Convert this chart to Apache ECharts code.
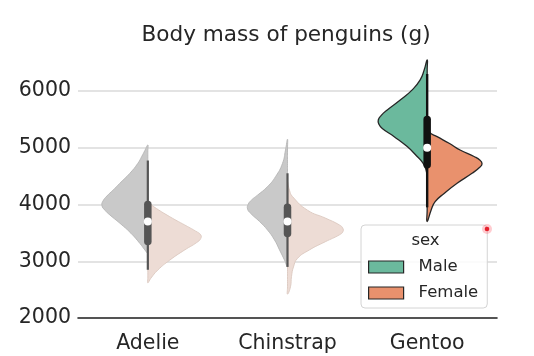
<!DOCTYPE html>
<html><head><meta charset="utf-8">
<script src="https://cdn.jsdelivr.net/npm/echarts@6/dist/echarts.min.js"></script>
<style>html,body{margin:0;padding:0;background:#fff}#c{width:534px;height:356px}</style>
</head><body><div id="c"></div>
<script>
const species = ['Adelie', 'Chinstrap', 'Gentoo'];
const yTicks = [2000, 3000, 4000, 5000, 6000];
const sexes = ['Male', 'Female'];

// half-violin outlines: [body mass (g), density]
const adelieMale = [[5050,0],[4950,3],[4850,6],[4725,10],[4550,18],[4375,28],[4250,35],[4150,41],[4060,45],[3980,46],[3900,43],[3815,38],[3670,28],[3495,17],[3315,8],[3200,3],[3140,0]];
const adelieFemale = [[4040,0],[3960,6],[3785,22],[3610,40],[3530,48],[3465,53],[3400,53],[3330,49],[3200,37],[3020,22],[2845,10],[2700,3],[2620,0]];
const chinstrapMale = [[5150,0],[4960,2],[4725,5],[4490,12],[4315,20],[4165,30],[4080,36],[4000,39.5],[3920,40],[3845,37],[3700,28],[3550,20],[3375,13],[3200,8],[3020,3],[2900,0]];
const chinstrapFemale = [[4400,0],[4250,2],[4140,5],[3900,20],[3760,38],[3640,52],[3580,55.5],[3520,55.5],[3465,52],[3345,38],[3200,22],[3050,10],[2900,6],[2730,4],[2550,3],[2420,0]];
const gentooMale = [[6550,0],[6370,3],[6195,7],[6020,15],[5840,27],[5665,40],[5570,46],[5490,49],[5420,48.5],[5340,45],[5195,33],[5020,20],[4845,10],[4725,4],[4600,1],[4500,0]];
const gentooFemale = [[5400,0],[5280,2],[5195,10],[5080,22],[4960,33],[4845,47],[4780,53],[4720,55],[4660,53],[4550,45],[4375,30],[4195,17],[4050,8],[3905,4],[3700,0]];

// inner box stats
const boxLow = [2850, 2900, 3950];
const boxQ1 = [3350, 3487.5, 4700];
const boxMedian = [3700, 3700, 5000];
const boxQ3 = [4000, 3950, 5500];
const boxHigh = [4775, 4550, 6300];

const maleShapes = [adelieMale, chinstrapMale, gentooMale];
const femaleShapes = [adelieFemale, chinstrapFemale, gentooFemale];
const maleFill = ['#c9c9c9', '#c9c9c9', '#6bb99d'];
const femaleFill = ['#eddcd5', '#eddcd5', '#e9916d'];
const maleStroke = ['#b6b6b6', '#b6b6b6', '#262626'];
const femaleStroke = ['#dbc8c0', '#dbc8c0', '#262626'];
const boxColor = ['#555555', '#555555', '#111111'];
const FONT = 'DejaVu Sans';

function violinRender(sign, shapes, fills, strokes) {
  return function (params, api) {
    const i = api.value(0);
    const pts = shapes[i];
    const band = api.size([1, 0])[0];
    const k = band / 140;
    const cx = api.coord([i, pts[0][0]])[0];
    const outer = pts.map(p => [cx + sign * p[1] * k, api.coord([i, p[0]])[1]]);
    const center = pts.slice(1, -1).reverse().map(p => [cx, api.coord([i, p[0]])[1]]);
    return {
      type: 'polygon',
      shape: { points: outer.concat(center), smooth: 0.5 },
      style: { fill: fills[i], stroke: strokes[i], lineWidth: i === 2 ? 1.3 : 0.9 }
    };
  };
}

function boxRender(params, api) {
  const i = api.value(0);
  const lo = api.coord([i, boxLow[i]]);
  const hi = api.coord([i, boxHigh[i]]);
  const q1 = api.coord([i, boxQ1[i]]);
  const q3 = api.coord([i, boxQ3[i]]);
  const md = api.coord([i, boxMedian[i]]);
  const c = boxColor[i];
  return {
    type: 'group',
    children: [
      { type: 'line', shape: { x1: lo[0], y1: lo[1], x2: hi[0], y2: hi[1] }, style: { stroke: c, lineWidth: i === 2 ? 2.4 : 2.2 } },
      { type: 'line', shape: { x1: q1[0], y1: q1[1], x2: q3[0], y2: q3[1] }, style: { stroke: c, lineWidth: 7.5, lineCap: 'round' } },
      { type: 'circle', shape: { cx: md[0], cy: md[1], r: 4 }, style: { fill: '#ffffff' } }
    ]
  };
}

const chart = echarts.init(document.getElementById('c'), null, { renderer: 'canvas' });
const catData = species.map((s, i) => [i, boxMedian[i]]);

chart.setOption({
  animation: false,
  backgroundColor: '#ffffff',
  textStyle: { fontFamily: FONT },
  title: {
    text: 'Body mass of penguins (g)',
    left: 281, top: 19, textAlign: 'center',
    textStyle: { fontFamily: FONT, fontSize: 21.6, fontWeight: 'normal', color: '#262626' }
  },
  grid: { left: 78, right: 37, top: 91, bottom: 38, containLabel: false },
  xAxis: {
    type: 'category', data: species,
    axisLine: { lineStyle: { color: '#262626', width: 1.6 } },
    axisTick: { alignWithLabel: true, length: 6, lineStyle: { color: '#262626', width: 1.6 } },
    axisLabel: { fontFamily: FONT, fontSize: 20.5, color: '#262626', margin: 15 },
    splitLine: { show: false }
  },
  yAxis: {
    type: 'value', min: yTicks[0], max: yTicks[yTicks.length - 1], interval: yTicks[1] - yTicks[0],
    axisLine: { show: false }, axisTick: { show: false },
    axisLabel: { fontFamily: FONT, fontSize: 20.5, color: '#262626', margin: 7, padding: [4, 0, 0, 0], formatter: v => String(v) },
    splitLine: { lineStyle: { color: '#dadada', width: 1.6 } }
  },
  legend: {
    orient: 'vertical', left: 361, top: 225, padding: [32, 9, 5, 7],
    itemWidth: 35, itemHeight: 12, itemGap: 6, selectedMode: false,
    data: [
      { name: sexes[0], icon: 'rect', itemStyle: { color: maleFill[2], borderColor: '#262626', borderWidth: 1.2 } },
      { name: sexes[1], icon: 'rect', itemStyle: { color: femaleFill[2], borderColor: '#262626', borderWidth: 1.2 } }
    ],
    textStyle: { fontFamily: FONT, fontSize: 16.5, color: '#262626', lineHeight: 20, padding: [0, 0, 0, 10] },
    backgroundColor: 'rgba(255,255,255,0.85)', borderColor: '#d4d4d4', borderWidth: 1, borderRadius: 4
  },
  graphic: [
    { type: 'text', x: 425.5, y: 241, z: 100, style: { text: 'sex', fontFamily: FONT, fontSize: 16.5, fill: '#262626', align: 'center', verticalAlign: 'middle' } },
    { type: 'circle', z: 100, shape: { cx: 487, cy: 229, r: 5 }, style: { fill: 'rgba(255,110,120,0.35)' } },
    { type: 'circle', z: 101, shape: { cx: 487, cy: 229, r: 2.3 }, style: { fill: '#e5202c' } }
  ],
  series: [
    { name: sexes[0], type: 'custom', clip: false, z: 2, data: catData, encode: { x: 0, y: 1 }, renderItem: violinRender(-1, maleShapes, maleFill, maleStroke), itemStyle: { color: maleFill[2] } },
    { name: sexes[1], type: 'custom', clip: false, z: 2, data: catData, encode: { x: 0, y: 1 }, renderItem: violinRender(1, femaleShapes, femaleFill, femaleStroke), itemStyle: { color: femaleFill[2] } },
    { name: 'box', type: 'custom', clip: false, z: 3, data: catData, encode: { x: 0, y: 1 }, renderItem: boxRender }
  ]
});
</script>
</body></html>
